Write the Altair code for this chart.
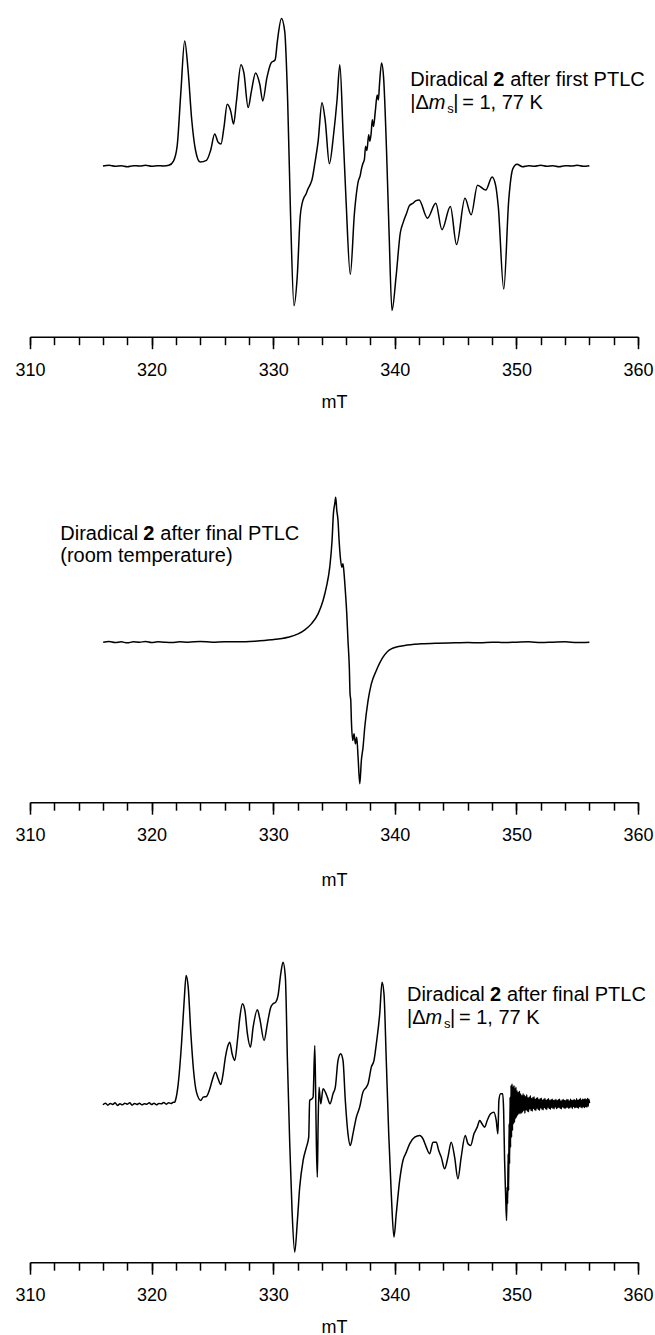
import altair as alt
import pandas as pd

FONT = "Liberation Sans"

# ---------------- data (field in mT, signal in arbitrary units) ----------------
major_ticks = [310, 320, 330, 340, 350, 360]
minor_ticks = [310, 312, 314, 316, 318, 320, 322, 324, 326, 328, 330, 332, 334, 336,
               338, 340, 342, 344, 346, 348, 350, 352, 354, 356, 358, 360]

p1_field = [316.0, 316.5, 317.0, 317.5, 318.0, 318.5, 319.0, 319.5, 320.0, 320.5, 321.0,
            321.42, 321.8, 322.1, 322.4, 322.72, 323.0, 323.3, 323.6, 323.99, 324.51,
            324.85, 325.19, 325.47, 325.71, 325.95, 326.22, 326.50, 326.74, 326.98, 327.35,
            327.59, 327.94, 328.21, 328.55, 328.90, 329.14, 329.48, 329.82, 330.16, 330.34,
            330.68, 330.95, 331.19, 331.43, 331.71, 331.98, 332.22, 332.40, 332.57, 332.70,
            332.85, 333.08, 333.20, 333.42, 333.70, 334.01, 334.28, 334.62, 334.97, 335.25,
            335.48, 335.75, 335.99, 336.34, 336.68, 337.02, 337.15, 337.25, 337.37, 337.50,
            337.60, 337.71, 337.85, 337.95, 338.05, 338.15, 338.25, 338.40, 338.55, 338.65,
            338.74, 338.91, 339.08, 339.32, 339.53, 339.77, 340.11, 340.45, 340.70, 340.97,
            341.20, 341.48, 341.75, 342.00, 342.68, 343.37, 343.88, 344.57, 345.08, 345.77,
            346.28, 346.80, 347.48, 348.00, 348.30, 348.51, 348.96, 349.37, 349.71, 350.05,
            350.5, 351.0, 351.5, 352.0, 352.5, 353.0, 353.5, 354.0, 354.5, 355.0, 355.5, 356.0]
p1_signal = [0, 2, -1, 1, -2, 1, 0, 2, -1, 1, 0,
             2, 15, 60, 220, 379, 290, 140, 50, 12, 17,
             47, 97, 72, 67, 117, 187, 167, 127, 197, 307,
             282, 177, 227, 282, 247, 197, 267, 312, 322, 377,
             447, 407, 197, -153, -423, -333, -153, -110, -93, -85,
             -70, -53, -40, 7, 77, 192, 137, 7, 97, 200,
             307, 97, -103, -328, -143, -43, -30, -10, 7, 20,
             60, 47, 95, 75, 97, 140, 120, 167, 215, 200,
             247, 312, 267, 47, -203, -438, -333, -203, -170, -143,
             -120, -113, -105, -103, -158, -113, -193, -123, -238, -98,
             -148, -58, -73, -33, -60, -123, -373, -103, -8, 5,
             -2, 1, -1, 2, -1, 1, -2, 1, 0, 2, -1, 1]

p2_field = [316.02, 316.5, 317.0, 317.5, 318.0, 318.5, 319.0, 319.5, 320.0, 320.5, 321.0,
            321.64, 322.3, 323.0, 324.0, 325.0, 326.0, 327.12, 328.5, 329.85, 331.22,
            332.05, 332.60, 333.14, 333.69, 334.10, 334.37, 334.65, 334.84, 334.95, 335.06,
            335.14, 335.23, 335.33, 335.42, 335.52, 335.64, 335.74, 335.83, 335.93, 336.05,
            336.15, 336.26, 336.32, 336.38, 336.43, 336.54, 336.65, 336.76, 336.87, 336.98,
            337.12, 337.25, 337.39, 337.53, 337.80, 338.07, 338.48, 339.03, 339.71, 340.81,
            342.18, 343.55, 345.0, 346.0, 347.0, 348.0, 349.0, 350.0, 351.0, 352.0, 353.0,
            354.0, 355.0, 356.0]
p2_signal = [0, 2, -1, 1, -2, 1, 0, 2, -1, 1, 0,
             -1, 1, 0, 2, 0, 1, 1, 3, 7, 15,
             25, 37, 55, 85, 125, 165, 225, 305, 385, 415,
             435, 395, 365, 305, 255, 225, 235, 205, 155, 85,
             5, -75, -155, -175, -235, -295, -275, -305, -285, -345,
             -425, -355, -315, -255, -175, -125, -85, -45, -20, -10,
             -5, -3, -2, -1, -2, 0, -1, 0, 1, -1, 0,
             1, -1, 0]

p3_field = [316.0, 316.2, 316.4, 316.6, 316.8, 317.0, 317.2, 317.4, 317.6, 317.8,
            318.0, 318.2, 318.4, 318.6, 318.8, 319.0, 319.2, 319.4, 319.6, 319.8,
            320.0, 320.2, 320.4, 320.6, 320.8, 321.0, 321.2, 321.4, 321.6, 321.8,
            321.91, 321.96, 322.19, 322.46, 322.68, 322.84, 323.01, 323.23, 323.45, 323.69,
            324.05, 324.24, 324.51, 324.79, 324.98, 325.25, 325.47, 325.69, 325.88, 326.07,
            326.24, 326.43, 326.62, 326.84, 327.06, 327.26, 327.47, 327.67, 327.88, 328.13,
            328.35, 328.70, 328.90, 329.25, 329.52, 329.80, 329.99, 330.21, 330.40, 330.62,
            330.81, 331.00, 331.17, 331.36, 331.55, 331.77, 331.99, 332.18, 332.46, 332.73,
            332.92, 333.00, 333.19, 333.28, 333.42, 333.50, 333.55, 333.63, 333.69, 333.77,
            333.91, 334.10, 334.29, 334.45, 334.67, 334.92, 335.11, 335.33, 335.55, 335.74,
            335.93, 336.15, 336.34, 336.56, 336.84, 337.11, 337.38, 337.66, 337.80, 338.07,
            338.29, 338.48, 338.76, 338.95, 339.11, 339.30, 339.50, 339.71, 339.93, 340.12,
            340.40, 340.67, 340.95, 341.22, 341.64, 342.05, 342.32, 342.59, 342.87, 343.14,
            343.41, 343.61, 343.82, 344.10, 344.37, 344.64, 344.92, 345.19, 345.46, 345.79,
            346.02, 346.24, 346.51, 346.78, 346.98, 347.17, 347.39, 347.60, 347.88, 348.15,
            348.34, 348.48, 348.56, 348.70, 348.87, 348.95, 349.03, 349.11, 349.19, 349.24,
            349.28, 349.32, 349.36, 349.40, 349.44, 349.48, 349.52, 349.56, 349.60, 349.64,
            349.68, 349.72, 349.76, 349.80, 349.84, 349.88, 349.92, 349.96, 350.00, 350.05,
            350.10, 350.15, 350.20, 350.25, 350.30, 350.35, 350.40, 350.45]
p3_signal = [-3, 2, -4, 1, -2, 3, -5, 0, -3, 2,
             -1, 3, -4, 1, -2, 2, -3, 0, -1, 3,
             -2, 2, -3, 1, 0, 4, -1, 3, 1, 5,
             5, 10, 60, 180, 310, 385, 350, 210, 100, 35,
             10, 20, 22, 45, 70, 95, 75, 58, 90, 140,
             170, 185, 150, 130, 190, 260, 300, 280, 210, 170,
             230, 282, 255, 190, 240, 290, 300, 305, 325, 390,
             425, 380, 130, -120, -320, -445, -350, -250, -170, -130,
             -100, 10, 15, 20, 175, 10, -120, -220, -70, 50,
             0, 45, 35, 20, 0, 30, 50, 130, 150, 130,
             10, -90, -125, -90, -40, -10, 35, 50, 60, 110,
             130, 180, 270, 365, 330, 130, -90, -270, -400, -330,
             -230, -170, -145, -120, -100, -95, -105, -130, -150, -115,
             -115, -140, -160, -195, -160, -115, -160, -225, -160, -95,
             -120, -125, -90, -70, -50, -60, -70, -50, -30, -25,
             -50, -90, 10, 30, 30, -20, -170, -270, -350, -250,
             -300, -150, -260, -60, -180, 20, -130, 55, -100, 60,
             -80, 50, -60, 55, -55, 45, -45, 50, -40, 40,
             -35, 35, -30, 38, -30, 30, -28, 25]

# noisy tail of the third spectrum, above ~350.5 mT
p3_tail_field = [350.50, 350.55, 350.60, 350.65, 350.70, 350.75, 350.80, 350.85, 350.90, 350.95,
                 351.00, 351.05, 351.10, 351.15, 351.20, 351.25, 351.30, 351.35, 351.40, 351.45,
                 351.50, 351.55, 351.60, 351.65, 351.70, 351.75, 351.80, 351.85, 351.90, 351.95,
                 352.00, 352.05, 352.10, 352.15, 352.20, 352.25, 352.30, 352.35, 352.40, 352.45,
                 352.50, 352.55, 352.60, 352.65, 352.70, 352.75, 352.80, 352.85, 352.90, 352.95,
                 353.00, 353.05, 353.10, 353.15, 353.20, 353.25, 353.30, 353.35, 353.40, 353.45,
                 353.50, 353.55, 353.60, 353.65, 353.70, 353.75, 353.80, 353.85, 353.90, 353.95,
                 354.00, 354.05, 354.10, 354.15, 354.20, 354.25, 354.30, 354.35, 354.40, 354.45,
                 354.50, 354.55, 354.60, 354.65, 354.70, 354.75, 354.80, 354.85, 354.90, 354.95,
                 355.00, 355.05, 355.10, 355.15, 355.20, 355.25, 355.30, 355.35, 355.40, 355.45,
                 355.50, 355.55, 355.60, 355.65, 355.70, 355.75, 355.80, 355.85, 355.90, 355.95,
                 356.02]
p3_tail_signal = [-25, 30, -20, 26, -28, 22, -18, 27, -22, 18,
                  -24, 20, -15, 24, -20, 16, -22, 19, -14, 21,
                  -18, 14, -20, 17, -13, 18, -17, 12, -19, 15,
                  -12, 17, -16, 11, -18, 14, -11, 16, -15, 10,
                  -17, 13, -10, 15, -14, 9, -16, 12, -10, 14,
                  -13, 10, -15, 11, -9, 13, -14, 9, -12, 12,
                  -10, 14, -13, 8, -15, 11, -9, 13, -12, 10,
                  -14, 9, -11, 13, -10, 12, -13, 8, -12, 14,
                  -9, 10, -14, 11, -8, 13, -12, 9, -10, 15,
                  -11, 10, -13, 12, -8, 16, -10, 11, -12, 14,
                  -9, 13, -11, 15, -8, 12, -10, 16, -7, 14,
                  2]

TEXT_FINAL = "after final PTLC"
TEXT_FIRST = "after first PTLC"

# ---------------- layout helpers ----------------
PLOT_W = 608


def ydomain(height, base_from_bottom, k):
    return [-base_from_bottom * k, (height - base_from_bottom) * k]


def txt(x, y, text, dx=0, dy=0, size=20, weight="normal", style="normal"):
    df = pd.DataFrame({"field": [x], "signal": [y], "t": [text]})
    return alt.Chart(df).mark_text(
        align="left", baseline="alphabetic", font=FONT, fontSize=size,
        fontWeight=weight, fontStyle=style, dx=dx, dy=dy, color="black"
    ).encode(
        x=alt.X("field:Q", axis=None),
        y=alt.Y("signal:Q", axis=None),
        text="t:N",
    )


def panel(field, signal, height, dom, texts, title_pad=14):
    df = pd.DataFrame({"field": field, "signal": signal})
    xscale = alt.Scale(domain=[310, 360], nice=False, zero=False)
    line = alt.Chart(df).mark_line(
        color="black", strokeWidth=1.5, interpolate="monotone"
    ).encode(
        x=alt.X("field:Q", scale=xscale,
                axis=alt.Axis(values=major_ticks, orient="bottom", title="mT",
                              tickSize=12, labelPadding=12.5, titlePadding=title_pad,
                              format="d")),
        y=alt.Y("signal:Q", scale=alt.Scale(domain=dom, nice=False, zero=False), axis=None),
    )
    minor = alt.Chart(pd.DataFrame({"field": minor_ticks})).mark_rule(opacity=0).encode(
        x=alt.X("field:Q", scale=xscale,
                axis=alt.Axis(values=minor_ticks, orient="bottom", title=None,
                              tickSize=8, labels=False, domain=False)),
    )
    return alt.layer(line, minor, *texts).resolve_axis(x="independent").properties(
        width=PLOT_W, height=height
    )


def delta_ms_line(x, y):
    return [
        txt(x, y, "|\u0394", dy=23),
        txt(x, y, "m", dx=18.5, dy=23, style="italic"),
        txt(x, y, "s", dx=37, dy=27, size=13),
        txt(x, y, "|", dx=43, dy=23),
        txt(x, y, "= 1, 77 K", dx=52, dy=23),
    ]


def title_line(x, y, rest):
    return [
        txt(x, y, "Diradical"),
        txt(x, y, "2", dx=83, weight="bold"),
        txt(x, y, rest, dx=100),
    ]


# panel 1
H1 = 331.7
dom1 = ydomain(H1, 170.7, 3.03)
x1, y1 = 341.27, 242.4
t1 = title_line(x1, y1, TEXT_FIRST) + delta_ms_line(x1, y1)
c1 = panel(p1_field, p1_signal, H1, dom1, t1)

# panel 2
H2 = 380.2
dom2 = ydomain(H2, 160, 3.0)
x2, y2 = 312.49, 307.2
t2 = title_line(x2, y2, TEXT_FINAL) + [txt(x2, y2, "(room temperature)", dy=22)]
c2 = panel(p2_field, p2_signal, H2, dom2, t2, title_pad=27)

# panel 3
H3 = 362.2
dom3 = ydomain(H3, 158.4, 3.0)
x3, y3 = 341.0, 307.8
t3 = title_line(x3, y3, TEXT_FINAL) + delta_ms_line(x3, y3)
c3 = panel(p3_field + p3_tail_field, p3_signal + p3_tail_signal, H3, dom3, t3)

chart = alt.vconcat(c1, c2, c3, spacing=10).properties(
    padding={"left": 14, "top": 5, "right": 0, "bottom": 0},
    background="white",
).configure_view(stroke=None).configure_axis(
    labelFont=FONT, titleFont=FONT, labelFontSize=18, titleFontSize=18,
    titleFontWeight="normal", labelColor="black", titleColor="black",
    domainColor="black", tickColor="black", domainWidth=1.5, tickWidth=1.5,
    grid=False, labelFlush=False,
)

chart.save("out.html", embed_options={"renderer": "svg", "actions": False})
